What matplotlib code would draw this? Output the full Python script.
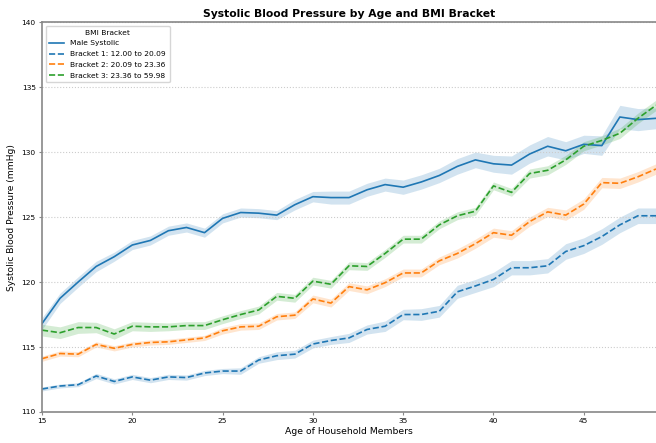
import matplotlib
matplotlib.use("Agg")
import matplotlib.pyplot as plt
import numpy as np

# Ages on the x axis
ages = list(range(15, 50))

# Mean systolic pressure per age
male_systolic = [116.8, 118.75, 120.0, 121.2, 121.95, 122.85, 123.2, 123.95, 124.2, 123.8,
                 124.9, 125.35, 125.3, 125.15, 125.95, 126.57, 126.5, 126.5, 127.1, 127.5,
                 127.3, 127.7, 128.2, 128.9, 129.4, 129.1, 129.0, 129.85, 130.45, 130.1,
                 130.6, 130.5, 132.7, 132.5, 132.6]
bracket_1 = [111.77, 112.0, 112.1, 112.77, 112.35, 112.7, 112.45, 112.7, 112.65, 113.0,
             113.15, 113.15, 114.0, 114.33, 114.45, 115.23, 115.5, 115.7, 116.35, 116.6,
             117.5, 117.5, 117.75, 119.25, 119.7, 120.2, 121.1, 121.1, 121.25, 122.35,
             122.8, 123.5, 124.4, 125.1, 125.1]
bracket_2 = [114.1, 114.5, 114.45, 115.2, 114.9, 115.2, 115.35, 115.4, 115.55, 115.7,
             116.25, 116.55, 116.6, 117.33, 117.45, 118.7, 118.38, 119.65, 119.4, 119.95,
             120.7, 120.7, 121.63, 122.2, 122.95, 123.8, 123.6, 124.65, 125.4, 125.15,
             126.0, 127.65, 127.6, 128.1, 128.7]
bracket_3 = [116.3, 116.1, 116.5, 116.5, 116.0, 116.6, 116.55, 116.55, 116.65, 116.65,
             117.1, 117.5, 117.85, 118.9, 118.75, 120.07, 119.83, 121.25, 121.2, 122.2,
             123.3, 123.3, 124.4, 125.1, 125.45, 127.4, 126.9, 128.35, 128.6, 129.4,
             130.45, 130.9, 131.45, 132.6, 133.6]

# Half widths of the confidence bands
male_ci = [0.45, 0.4, 0.4, 0.4, 0.35, 0.35, 0.35, 0.35, 0.35, 0.35, 0.35, 0.35, 0.35, 0.35,
           0.4, 0.4, 0.5, 0.5, 0.5, 0.5, 0.55, 0.55, 0.55, 0.6, 0.6, 0.65, 0.7, 0.7, 0.75,
           0.7, 0.7, 0.75, 0.9, 0.85, 0.8]
bracket_1_ci = [0.15, 0.15, 0.15, 0.2, 0.2, 0.2, 0.2, 0.2, 0.2, 0.2, 0.2, 0.25, 0.25, 0.3,
                0.3, 0.3, 0.3, 0.35, 0.35, 0.4, 0.4, 0.45, 0.45, 0.5, 0.5, 0.55, 0.55, 0.55,
                0.55, 0.6, 0.6, 0.6, 0.6, 0.6, 0.6]
bracket_2_ci = [0.2, 0.2, 0.2, 0.2, 0.2, 0.2, 0.2, 0.2, 0.2, 0.2, 0.25, 0.25, 0.25, 0.25,
                0.25, 0.3, 0.3, 0.3, 0.3, 0.3, 0.3, 0.3, 0.3, 0.35, 0.35, 0.35, 0.35, 0.35,
                0.35, 0.4, 0.4, 0.4, 0.4, 0.4, 0.4]
bracket_3_ci = [0.45, 0.45, 0.45, 0.4, 0.4, 0.35, 0.35, 0.3, 0.3, 0.3, 0.3, 0.3, 0.3, 0.3,
                0.3, 0.3, 0.3, 0.3, 0.3, 0.3, 0.3, 0.3, 0.3, 0.3, 0.3, 0.3, 0.3, 0.35, 0.35,
                0.35, 0.35, 0.35, 0.4, 0.4, 0.4]

labels = ["Male Systolic", "Bracket 1: 12.00 to 20.09",
          "Bracket 2: 20.09 to 23.36", "Bracket 3: 23.36 to 59.98"]

fig = plt.figure(figsize=(6.56, 4.43), dpi=100)
ax = fig.add_axes([0.064, 0.070, 0.936, 0.880])

series = [
    (male_systolic, male_ci, "tab:blue", "-"),
    (bracket_1, bracket_1_ci, "tab:blue", "--"),
    (bracket_2, bracket_2_ci, "tab:orange", "--"),
    (bracket_3, bracket_3_ci, "tab:green", "--"),
]

x = np.array(ages)
for (vals, ci, color, ls), label in zip(series, labels):
    vals = np.array(vals)
    ci = np.array(ci)
    ax.fill_between(x, vals - ci, vals + ci, color=color, alpha=0.2, linewidth=0)
    ax.plot(x, vals, color=color, linestyle=ls, linewidth=1.2, label=label)

ax.set_xlim(15, 49)
ax.set_ylim(110, 140)
ax.set_xticks([15, 20, 25, 30, 35, 40, 45])
ax.set_yticks([110, 115, 120, 125, 130, 135, 140])
ax.tick_params(labelsize=5.4, length=2.5, pad=2, color="#888888")
ax.grid(axis="y", linestyle=":", color="#cccccc", linewidth=0.8)

for side in ["top", "left", "bottom"]:
    ax.spines[side].set_color("#888888")
    ax.spines[side].set_linewidth(1.2)
ax.spines["right"].set_visible(False)

ax.set_title("Systolic Blood Pressure by Age and BMI Bracket", fontsize=7.75,
             fontweight="bold", pad=4)
ax.set_xlabel("Age of Household Members", fontsize=6.7, labelpad=2)
ax.set_ylabel("Systolic Blood Pressure (mmHg)", fontsize=6.6, labelpad=4)

leg = ax.legend(title="BMI Bracket", loc="upper left", fontsize=5.4, title_fontsize=5.4,
                labelspacing=0.6, borderpad=0.5)

fig.savefig("out.png", dpi=100)
